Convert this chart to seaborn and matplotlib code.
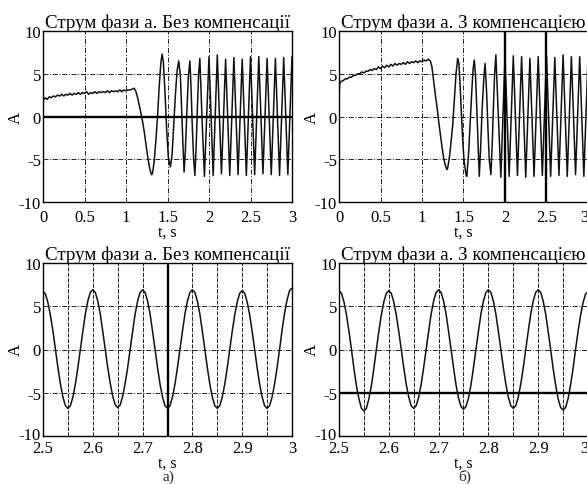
import numpy as np
import pandas as pd
import matplotlib
matplotlib.use('Agg')
import matplotlib.pyplot as plt
import matplotlib.transforms as mtransforms
import seaborn as sns

# ---------------- data ----------------
title_no = "Струм фази а. Без компенсації"
title_yes = "Струм фази а. З компенсацією"
xlabel = "t, s"
ylabel = "A"
sub_labels = ["а)", "б)"]

top_xticks = [0, 0.5, 1, 1.5, 2, 2.5, 3]
top_xticklabels = ["0", "0.5", "1", "1.5", "2", "2.5", "3"]
bot_xticks = [2.5, 2.6, 2.7, 2.8, 2.9, 3.0]
bot_xticklabels = ["2.5", "2.6", "2.7", "2.8", "2.9", "3"]
bot_xminor = [2.55, 2.65, 2.75, 2.85, 2.95]
yticks = [-10, -5, 0, 5, 10]
yticklabels = ["-10", "-5", "0", "5", "10"]

# top-left: without compensation, 0..3 s
tl_t = [0.000, 0.005, 0.025, 0.05, 0.075, 0.1, 0.125, 0.15, 0.175, 0.2, 0.225, 0.25,
        0.275, 0.3, 0.325, 0.35, 0.375, 0.4, 0.425, 0.45, 0.475, 0.5, 0.525, 0.55,
        0.575, 0.6, 0.625, 0.65, 0.675, 0.7, 0.725, 0.75, 0.775, 0.8, 0.825, 0.85,
        0.875, 0.9, 0.925, 0.95, 0.975, 1.0, 1.025, 1.05, 1.075, 1.1,
        1.12, 1.14, 1.16, 1.18, 1.2, 1.22, 1.24, 1.26, 1.28, 1.30, 1.31, 1.32, 1.34,
        1.36, 1.38, 1.40, 1.42, 1.435, 1.45, 1.47, 1.49, 1.51, 1.535, 1.555, 1.575,
        1.595, 1.615, 1.635, 1.655, 1.67, 1.685, 1.70, 1.715, 1.735, 1.752, 1.77,
        1.785, 1.80, 1.815, 1.83, 1.845, 1.86, 1.875, 1.89, 1.915, 1.945, 1.972,
        2.0, 2.05, 2.1, 2.15, 2.2, 2.25, 2.3, 2.35, 2.4, 2.45, 2.5, 2.55, 2.6, 2.65,
        2.7, 2.75, 2.8, 2.85, 2.9, 2.95, 3.0]
tl_i = [0.8, 1.9, 2.2, 2.0, 2.3, 2.2, 2.4, 2.3, 2.5, 2.4, 2.6, 2.4,
        2.6, 2.5, 2.7, 2.5, 2.7, 2.6, 2.8, 2.6, 2.8, 2.7, 2.9, 2.6,
        2.8, 2.7, 2.9, 2.7, 2.9, 2.8, 2.9, 2.8, 3.0, 2.8, 3.0, 2.9,
        3.0, 2.9, 3.1, 2.9, 3.1, 3.0, 3.1, 3.1, 3.2, 3.3,
        2.9, 2.2, 1.3, 0.4, -0.6, -1.8, -3.2, -4.6, -5.8, -6.6, -6.8, -6.6, -5.2,
        -2.8, 0.0, 3.5, 6.3, 7.3, 6.4, 2.8, -1.5, -4.8, -5.9, -4.5, -1.0,
        2.5, 5.3, 6.5, 4.8, 1.0, -3.0, -6.5, -4.0, 1.0, 4.8, 6.5,
        3.0, -1.5, -5.0, -6.9, -3.5, 1.0, 5.0, 6.8, 0.0, -7.0, 0.0,
        7.0, -6.9, 7.2, -6.7, 6.7, -6.9, 6.9, -6.8, 6.7, -6.9, 7.0, -6.8, 7.0, -6.7,
        6.8, -6.8, 6.8, -6.9, 6.9, -6.8, 7.0]

# top-right: with compensation, 0..3 s
tr_t = [0.000, 0.005, 0.01, 0.025, 0.05, 0.075, 0.1, 0.125, 0.15, 0.175, 0.2, 0.225,
        0.25, 0.275, 0.3, 0.325, 0.35, 0.375, 0.4, 0.425, 0.45, 0.475, 0.5, 0.525,
        0.55, 0.575, 0.6, 0.625, 0.65, 0.675, 0.7, 0.725, 0.75, 0.775, 0.8, 0.825,
        0.85, 0.875, 0.9, 0.925, 0.95, 0.975, 1.0, 1.025, 1.05, 1.075, 1.1,
        1.12, 1.14, 1.16, 1.18, 1.20, 1.22, 1.24, 1.26, 1.28, 1.30, 1.31, 1.33, 1.35,
        1.37, 1.39, 1.41, 1.43, 1.445, 1.465, 1.485, 1.505, 1.53, 1.54, 1.56, 1.58,
        1.60, 1.615, 1.63, 1.645, 1.66, 1.675, 1.69, 1.705, 1.725, 1.745, 1.76,
        1.78, 1.795, 1.81, 1.83, 1.845, 1.86, 1.875, 1.89, 1.92, 1.95, 1.975,
        2.0, 2.05, 2.1, 2.15, 2.2, 2.25, 2.3, 2.35, 2.4, 2.45, 2.5, 2.55, 2.6, 2.65,
        2.7, 2.75, 2.8, 2.85, 2.9, 2.95, 3.0]
tr_i = [0.8, 3.3, 3.9, 4.1, 4.2, 4.4, 4.4, 4.6, 4.6, 4.8, 4.8, 5.0,
        5.0, 5.2, 5.1, 5.3, 5.3, 5.5, 5.4, 5.6, 5.5, 5.8, 5.6, 5.9,
        5.7, 6.0, 5.8, 6.1, 5.9, 6.2, 6.0, 6.2, 6.1, 6.3, 6.1, 6.4,
        6.2, 6.4, 6.3, 6.5, 6.3, 6.5, 6.4, 6.6, 6.5, 6.7, 6.5,
        5.8, 4.2, 2.6, 1.2, -0.5, -2.0, -3.5, -4.8, -5.7, -6.2, -6.0, -4.8, -3.0,
        -1.0, 2.0, 5.0, 6.8, 6.2, 2.5, -1.8, -5.0, -6.8, -7.0, -4.5, -0.8,
        3.0, 5.5, 6.6, 4.8, 1.0, -3.0, -7.0, -4.0, 1.0, 4.5, 6.2,
        2.5, -1.5, -5.0, -6.8, -3.5, 1.0, 5.0, 7.2, 0.0, -7.1, 0.0,
        7.0, -7.0, 7.1, -6.9, 7.0, -7.1, 6.8, -7.0, 7.0, -6.9, 7.1, -7.0, 6.9, -6.9,
        7.2, -7.0, 7.0, -6.8, 7.0, -7.0, 6.9]

# bottom: zoom 2.5..3 s, samples every 5 ms
bot_t = [round(2.5 + 0.005 * k, 3) for k in range(101)]
bl_i = [6.7, 6.4, 5.4, 3.9, 2.1, 0.0, -2.1, -4.0, -5.5, -6.5, -6.8,
        -6.5, -5.5, -4.0, -2.1, 0.0, 2.1, 4.1, 5.6, 6.6, 6.9,
        6.6, 5.6, 4.1, 2.1, 0.0, -2.1, -3.9, -5.4, -6.4, -6.7,
        -6.4, -5.4, -3.9, -2.1, 0.0, 2.1, 4.1, 5.6, 6.6, 6.9,
        6.6, 5.6, 4.1, 2.1, 0.0, -2.1, -4.0, -5.5, -6.5, -6.8,
        -6.5, -5.5, -4.0, -2.1, 0.0, 2.1, 4.1, 5.6, 6.6, 6.9,
        6.6, 5.6, 4.1, 2.1, 0.0, -2.1, -4.0, -5.5, -6.5, -6.8,
        -6.5, -5.5, -4.0, -2.1, 0.0, 2.1, 4.0, 5.5, 6.5, 6.8,
        6.5, 5.5, 4.0, 2.1, 0.0, -2.1, -4.0, -5.5, -6.5, -6.8,
        -6.5, -5.5, -4.0, -2.1, 0.0, 2.2, 4.2, 5.7, 6.8, 7.1]
br_i = [6.8, 6.5, 5.5, 4.0, 2.1, 0.0, -2.2, -4.2, -5.7, -6.8, -7.1,
        -6.8, -5.7, -4.2, -2.2, 0.0, 2.1, 4.0, 5.5, 6.5, 6.8,
        6.5, 5.5, 4.0, 2.1, 0.0, -2.1, -4.0, -5.5, -6.5, -6.8,
        -6.5, -5.5, -4.0, -2.1, 0.0, 2.1, 4.1, 5.6, 6.6, 6.9,
        6.6, 5.6, 4.1, 2.1, 0.0, -2.1, -4.1, -5.6, -6.6, -6.9,
        -6.6, -5.6, -4.1, -2.1, 0.0, 2.1, 4.1, 5.6, 6.6, 6.9,
        6.6, 5.6, 4.1, 2.1, 0.0, -2.1, -4.0, -5.5, -6.5, -6.8,
        -6.5, -5.5, -4.0, -2.1, 0.0, 2.1, 4.1, 5.6, 6.6, 6.9,
        6.6, 5.6, 4.1, 2.1, 0.0, -2.2, -4.1, -5.7, -6.7, -7.0,
        -6.7, -5.7, -4.1, -2.2, 0.0, 2.1, 3.9, 5.4, 6.4, 6.7]

# cursor lines (marker positions in the original)
tl_cursor_h = [0]
tr_cursor_v = [2.0, 2.5]
bl_cursor_v = [2.75]
br_cursor_h = [-5]

# ---------------- figure ----------------
sns.set_style('white')
plt.rcParams['font.family'] = ['Liberation Serif', 'DejaVu Serif']

W, H = 587, 485
fig = plt.figure(figsize=(W / 100, H / 100), dpi=100)

def box(l, t, w, h):
    return [l / W, 1 - (t + h) / H, w / W, h / H]

ax_tl = fig.add_axes(box(43, 32, 249, 171))
ax_tr = fig.add_axes(box(339, 32, 249, 171))
ax_bl = fig.add_axes(box(43, 264, 249, 173))
ax_br = fig.add_axes(box(339, 264, 249, 173))

dashdot = (0, (6, 2, 1.2, 2))
dashed = (0, (5, 1.6))
line_col = '#111111'

def style(ax, title, top):
    ax.set_ylim(-10, 10)
    ax.set_yticks(yticks)
    ax.set_yticklabels(yticklabels)
    if top:
        ax.set_xlim(0, 3)
        ax.set_xticks(top_xticks)
        ax.set_xticklabels(top_xticklabels)
        ax.grid(axis='x', which='major', linestyle=dashdot, color='k', lw=0.6)
    else:
        ax.set_xlim(2.5, 3.0)
        ax.set_xticks(bot_xticks)
        ax.set_xticklabels(bot_xticklabels)
        ax.set_xticks(bot_xminor, minor=True)
        ax.grid(axis='x', which='both', linestyle=dashed, color='k', lw=0.6)
    ax.grid(axis='y', which='major', linestyle=dashdot, color='k', lw=0.6)
    ax.tick_params(axis='both', which='both', length=0, labelsize=12, colors='k')
    ax.tick_params(axis='x', pad=5 if top else 3)
    ax.tick_params(axis='y', pad=1.5)
    for s in ax.spines.values():
        s.set_visible(True)
        s.set_color('k')
        s.set_linewidth(1.0)
    ax.set_title(title, fontsize=13.7, pad=3, color='k')
    ax.set_xlabel(xlabel, fontsize=11.5, color='k')
    ax.set_ylabel(ylabel, fontsize=12, color='k')
    ax.xaxis.set_label_coords(0.5, -0.125 if top else -0.106)
    ax.yaxis.set_label_coords(-0.078, 0.5)

series = [
    (ax_tl, tl_t, tl_i, title_no, True),
    (ax_tr, tr_t, tr_i, title_yes, True),
    (ax_bl, bot_t, bl_i, title_no, False),
    (ax_br, bot_t, br_i, title_yes, False),
]
for ax, t, i, title, top in series:
    df = pd.DataFrame({'t': t, 'i': i})
    sns.lineplot(data=df, x='t', y='i', ax=ax, color=line_col, lw=1.1,
                 estimator=None, sort=False)
    style(ax, title, top)

for y in tl_cursor_h:
    ax_tl.axhline(y, color='k', lw=1.7)
for x in tr_cursor_v:
    ax_tr.axvline(x, color='k', lw=1.7)
for x in bl_cursor_v:
    ax_bl.axvline(x, color='k', lw=1.7)
for y in br_cursor_h:
    ax_br.axhline(y, color='k', lw=1.7)

# last tick label on the right-hand plots is kept inside the picture
for ax in (ax_tr, ax_br):
    ax.get_xticklabels()[-1].set_horizontalalignment('right')

# lift the "-10" label of the lower plots a little so it clears the x labels
lift = mtransforms.ScaledTranslation(0, 3 / 100, fig.dpi_scale_trans)
for ax in (ax_bl, ax_br):
    lab = ax.get_yticklabels()[0]
    lab.set_transform(lab.get_transform() + lift)

fig.text(168 / W, 1 / H, sub_labels[0], ha='center', va='bottom', fontsize=11)
fig.text(465 / W, 1 / H, sub_labels[1], ha='center', va='bottom', fontsize=11)

fig.savefig('out.png', dpi=100)
